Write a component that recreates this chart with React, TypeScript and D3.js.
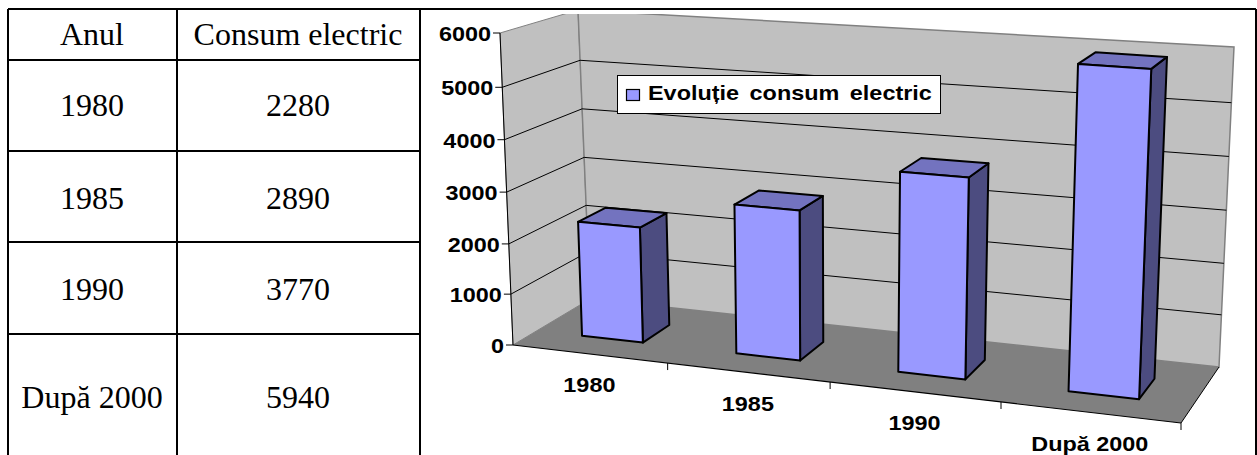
import React from "react";
import * as d3 from "d3";

const categories = ["1980", "1985", "1990", "După 2000"];
const values = [2280, 2890, 3770, 5940];
const tableHeaders = ["Anul", "Consum electric"];
const tableBaselines = [116, 209, 300, 408];
const yTicks = [0, 1000, 2000, 3000, 4000, 5000, 6000];
const yFractions = [0, 0.163, 0.324, 0.49, 0.658, 0.826, 1];
const legendLabel = "Evoluție consum electric";
const rowLines = [60, 151, 242, 334];

type P = [number, number];
const floorQuad: P[] = [[513, 345], [1181, 423], [1219, 367], [590, 299]];
// wall height as a screen vector at each floor corner
const rise: P[] = [[-13, -312], [14, -343], [15, -320], [-12, -289]];

// closed-form homography from the unit square to a quad (fl, fr, br, bl)
function quadMap(q: P[]) {
  const [p0, p1, p2, p3] = q;
  const dx1 = p1[0] - p2[0], dx2 = p3[0] - p2[0], sx = p0[0] - p1[0] + p2[0] - p3[0];
  const dy1 = p1[1] - p2[1], dy2 = p3[1] - p2[1], sy = p0[1] - p1[1] + p2[1] - p3[1];
  const den = dx1 * dy2 - dx2 * dy1;
  const g = (sx * dy2 - dx2 * sy) / den;
  const h = (dx1 * sy - sx * dy1) / den;
  const a = p1[0] - p0[0] + g * p1[0], b = p3[0] - p0[0] + h * p3[0], c = p0[0];
  const d = p1[1] - p0[1] + g * p1[1], e = p3[1] - p0[1] + h * p3[1], f = p0[1];
  return (u: number, v: number): P => {
    const w = g * u + h * v + 1;
    return [(a * u + b * v + c) / w, (d * u + e * v + f) / w];
  };
}
const floorAt = quadMap(floorQuad);
const yScale = d3.scaleLinear().domain(yTicks).range(yFractions);
const uScale = d3.scaleLinear().domain([0, categories.length]).range([0, 1]);
const BAR = 0.4, V0 = 0.3, V1 = 0.67;

function pt(u: number, v: number, val: number): P {
  const a = floorAt(u, v), t = yScale(val);
  const mix = (k: number) =>
    (rise[0][k] * (1 - u) + rise[1][k] * u) * (1 - v) + (rise[3][k] * (1 - u) + rise[2][k] * u) * v;
  return [a[0] + mix(0) * t, a[1] + mix(1) * t];
}
const poly = (ps: P[]) => d3.line()(ps)! + "Z";

const SERIF = "'Liberation Serif', serif";
const SANS = "'Liberation Sans', sans-serif";
const STRETCH = 1.115;

export default function App() {
  const top = 6000;
  return (
    <svg width={1257} height={455} style={{ position: "absolute", left: 0, top: 0, background: "#fff" }}>
      {/* walls */}
      <path d={poly([pt(0, 0, 0), pt(0, 1, 0), pt(0, 1, top), pt(0, 0, top)])} fill="#C0C0C0" stroke="#808080" strokeWidth={1} />
      <path d={poly([pt(0, 1, 0), pt(1, 1, 0), pt(1, 1, top), pt(0, 1, top)])} fill="#C0C0C0" stroke="#808080" strokeWidth={1.5} />
      <path d={poly([pt(0, 0, 0), pt(1, 0, 0), pt(1, 1, 0), pt(0, 1, 0)])} fill="#808080" />
      {/* gridlines */}
      {yTicks.slice(1, -1).map((t) => (
        <path key={t} d={d3.line()([pt(0, 0, t), pt(0, 1, t), pt(1, 1, t)])!} fill="none" stroke="#000" strokeWidth={1} />
      ))}
      {/* value axis */}
      <path d={d3.line()([pt(0, 0, 0), pt(0, 0, top)])!} stroke="#000" strokeWidth={1} fill="none" />
      {yTicks.map((t) => {
        const [x, y] = pt(0, 0, t);
        return (
          <g key={t}>
            <line x1={x - 7} x2={x} y1={y} y2={y} stroke="#000" />
            <text transform={`translate(${x - 9},${y + 8}) scale(${STRETCH},1)`} textAnchor="end" fontFamily={SANS} fontWeight="bold" fontSize={21}>{t}</text>
          </g>
        );
      })}
      {/* category axis */}
      <path d={d3.line()([pt(0, 0, 0), pt(1, 0, 0)])!} stroke="#000" strokeWidth={1.2} fill="none" />
      <path d={d3.line()([pt(1, 0, 0), pt(1, 1, 0)])!} stroke="#000" strokeWidth={1} fill="none" />
      {categories.map((c, i) => {
        const [x, y] = pt(uScale(i + 1), 0, 0);
        const [lx, ly] = pt(uScale(i + 0.5), 0, 0);
        return (
          <g key={c}>
            <line x1={x} x2={x} y1={y} y2={y + 7} stroke="#000" />
            <text transform={`translate(${lx},${ly + 38.5}) scale(${STRETCH},1)`} textAnchor="middle" fontFamily={SANS} fontWeight="bold" fontSize={21}>{c}</text>
          </g>
        );
      })}
      {/* bars */}
      {values.map((val, i) => {
        const c = uScale(i + 0.5), w = uScale(BAR / 2);
        const l = c - w, r = c + w;
        return (
          <g key={categories[i]} stroke="#000" strokeWidth={2} strokeLinejoin="round">
            <path d={poly([pt(r, V0, 0), pt(r, V1, 0), pt(r, V1, val), pt(r, V0, val)])} fill="#4C4C80" />
            <path d={poly([pt(l, V0, val), pt(r, V0, val), pt(r, V1, val), pt(l, V1, val)])} fill="#7373BF" />
            <path d={poly([pt(l, V0, 0), pt(r, V0, 0), pt(r, V0, val), pt(l, V0, val)])} fill="#9999FF" />
          </g>
        );
      })}
      {/* top clip */}
      <rect x={421} y={0} width={834} height={14} fill="#fff" />
      {/* legend */}
      <rect x={617.5} y={75.5} width={323} height={38} fill="#fff" stroke="#000" />
      <rect x={626.5} y={89.5} width={13} height={11} fill="#9999FF" stroke="#000" strokeWidth={1.2} />
      <text transform={`translate(648,100) scale(${STRETCH},1)`} fontFamily={SANS} fontWeight="bold" fontSize={21} wordSpacing={3.6}>{legendLabel}</text>
      {/* table */}
      <g stroke="#000" strokeWidth={2}>
        <line x1={8} x2={1256} y1={9} y2={9} />
        <line x1={8} x2={8} y1={9} y2={455} />
        <line x1={177} x2={177} y1={9} y2={455} />
        <line x1={420} x2={420} y1={9} y2={455} />
        <line x1={1256} x2={1256} y1={9} y2={455} />
        {rowLines.map((y) => <line key={y} x1={8} x2={420} y1={y} y2={y} />)}
      </g>
      <g fontFamily={SERIF} fontSize={32} textAnchor="middle">
        <text x={92} y={45}>{tableHeaders[0]}</text>
        <text x={298} y={45}>{tableHeaders[1]}</text>
        {categories.map((c, i) => (
          <g key={c}>
            <text x={92} y={tableBaselines[i]}>{c}</text>
            <text x={298} y={tableBaselines[i]}>{values[i]}</text>
          </g>
        ))}
      </g>
    </svg>
  );
}
